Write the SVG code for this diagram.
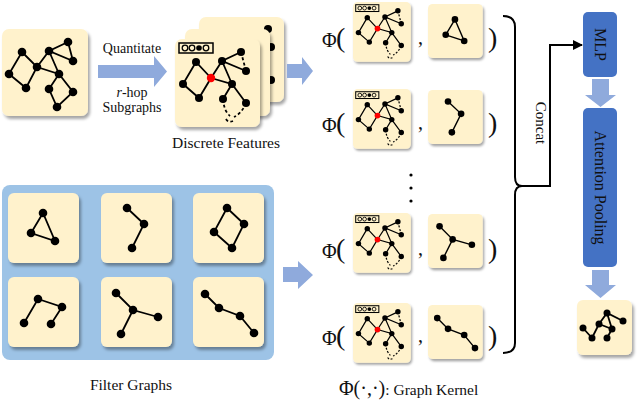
<svg xmlns="http://www.w3.org/2000/svg" xmlns:xlink="http://www.w3.org/1999/xlink" width="640" height="402" viewBox="0 0 640 402">
<style>
.tile{fill:#FFF2CC;filter:url(#sh)}
.e{stroke:#000;stroke-width:1.8;fill:none;stroke-linecap:round}
.d{stroke:#000;stroke-width:1.8;fill:none;stroke-dasharray:3 2.5}
.n{fill:#000}
.t{font-family:"Liberation Serif","Times New Roman",serif;fill:#111}
.arr{fill:#8FAADC}
.blue{fill:#4472C4}
</style>
<defs>
<filter id="sh" x="-20%" y="-20%" width="150%" height="150%">
<feDropShadow dx="2" dy="3" stdDeviation="1.6" flood-color="#000" flood-opacity="0.35"/>
</filter>
<marker id="ah" viewBox="0 0 10 10" refX="9" refY="5" markerWidth="10" markerHeight="10" markerUnits="userSpaceOnUse" orient="auto">
<path d="M0,0 L10,5 L0,10 z" fill="#000"/>
</marker>
<g id="subg">
<rect class="tile" x="0" y="0" width="85" height="88" rx="7"/>
<rect x="4" y="4" width="34" height="10" fill="none" stroke="#000" stroke-width="1.5"/>
<circle cx="10" cy="9" r="2.8" fill="none" stroke="#000" stroke-width="1.3"/>
<circle cx="17" cy="9" r="2.8" fill="none" stroke="#000" stroke-width="1.3"/>
<circle cx="24" cy="9" r="2.8" fill="#000"/>
<circle cx="31" cy="9" r="2.8" fill="none" stroke="#000" stroke-width="1.3"/>
<path class="e" d="M21,23 L8,45 L24,59 L36,39 Z M36,39 L47,22 L66,13 M71,32 L47,22 L57,45 L36,39 M57,45 L48,60 M57,45 L71,64"/>
<path class="d" d="M66,13 L71,32 M48,60 Q49,72 55,77 M71,64 Q67,74 59,78 M51,80 q2,4 7,2"/>
<circle class="n" cx="21" cy="23" r="4"/><circle class="n" cx="8" cy="45" r="4"/><circle class="n" cx="24" cy="59" r="4"/>
<circle cx="36" cy="39" r="4.2" fill="#FF0000"/>
<circle class="n" cx="47" cy="22" r="4"/><circle class="n" cx="66" cy="13" r="4"/><circle class="n" cx="71" cy="32" r="4"/>
<circle class="n" cx="57" cy="45" r="4"/><circle class="n" cx="48" cy="60" r="4"/><circle class="n" cx="71" cy="64" r="4"/>
</g>
<g id="fg1">
<rect class="tile" x="0" y="0" width="71" height="70" rx="6"/>
<path class="e" d="M35,20 L23,40 L47,48 Z"/>
<circle class="n" cx="35" cy="20" r="4.3"/><circle class="n" cx="23" cy="40" r="4.3"/><circle class="n" cx="47" cy="48" r="4.3"/>
</g>
<g id="fg2">
<rect class="tile" x="0" y="0" width="71" height="70" rx="6"/>
<path class="e" d="M26,15 L43,31 L31,55"/>
<circle class="n" cx="26" cy="15" r="4.3"/><circle class="n" cx="43" cy="31" r="4.3"/><circle class="n" cx="31" cy="55" r="4.3"/>
</g>
<g id="fg3">
<rect class="tile" x="0" y="0" width="71" height="70" rx="6"/>
<path class="e" d="M34,15 L51,31 L39,55 L21,39 Z"/>
<circle class="n" cx="34" cy="15" r="4.3"/><circle class="n" cx="51" cy="31" r="4.3"/><circle class="n" cx="39" cy="55" r="4.3"/><circle class="n" cx="21" cy="39" r="4.3"/>
</g>
<g id="fg4">
<rect class="tile" x="0" y="0" width="71" height="70" rx="6"/>
<path class="e" d="M16,46 L30,22 L54,30 L43,47"/>
<circle class="n" cx="16" cy="46" r="4.3"/><circle class="n" cx="30" cy="22" r="4.3"/><circle class="n" cx="54" cy="30" r="4.3"/><circle class="n" cx="43" cy="47" r="4.3"/>
</g>
<g id="fg5">
<rect class="tile" x="0" y="0" width="71" height="70" rx="6"/>
<path class="e" d="M15,16 L32,33 L57,40 M32,33 L20,57"/>
<circle class="n" cx="15" cy="16" r="4.3"/><circle class="n" cx="32" cy="33" r="4.3"/><circle class="n" cx="57" cy="40" r="4.3"/><circle class="n" cx="20" cy="57" r="4.3"/>
</g>
<g id="fg6">
<rect class="tile" x="0" y="0" width="71" height="70" rx="6"/>
<path class="e" d="M12,17 L26,31 L47,39 L61,56"/>
<circle class="n" cx="12" cy="17" r="4.3"/><circle class="n" cx="26" cy="31" r="4.3"/><circle class="n" cx="47" cy="39" r="4.3"/><circle class="n" cx="61" cy="56" r="4.3"/>
</g>
</defs>
<rect x="0" y="0" width="640" height="402" fill="#fff"/>

<!-- input graph -->
<g id="input-graph">
<rect class="tile" x="2" y="29" width="86" height="87" rx="7"/>
<path class="e" d="M22,52 L9,74 L26,88 L37,67 Z M37,67 L49,51 L68,42 L73,61 L49,51 L59,74 L37,67 M59,74 L49,89 L57,107 L73,92 L59,74"/>
<circle class="n" cx="22" cy="52" r="4.3"/><circle class="n" cx="9" cy="74" r="4.3"/><circle class="n" cx="26" cy="88" r="4.3"/>
<circle class="n" cx="37" cy="67" r="4.3"/><circle class="n" cx="49" cy="51" r="4.3"/><circle class="n" cx="68" cy="42" r="4.3"/>
<circle class="n" cx="73" cy="61" r="4.3"/><circle class="n" cx="59" cy="74" r="4.3"/><circle class="n" cx="49" cy="89" r="4.3"/>
<circle class="n" cx="73" cy="92" r="4.3"/><circle class="n" cx="57" cy="107" r="4.3"/>
</g>

<!-- quantitate arrow -->
<g id="quantitate">
<polygon class="arr" points="98,65 154,65 154,56 167,71.5 154,87 154,78 98,78"/>
<text class="t" x="132" y="53" font-size="14" text-anchor="middle">Quantitate</text>
<text class="t" x="132" y="97" font-size="14" text-anchor="middle"><tspan font-style="italic">r</tspan>-hop</text>
<text class="t" x="132" y="112" font-size="14" text-anchor="middle">Subgraphs</text>
</g>

<!-- discrete features stack -->
<g id="discrete-features">
<rect class="tile" x="199" y="17" width="85" height="85" rx="7"/>
<circle class="n" cx="268" cy="29" r="4"/><circle class="n" cx="271" cy="47" r="4"/><circle class="n" cx="271" cy="80" r="4"/>
<rect class="tile" x="185" y="29" width="85" height="87" rx="7"/>
<use xlink:href="#subg" href="#subg" transform="translate(175,39)"/>
<text class="t" x="226" y="148" font-size="15.5" text-anchor="middle">Discrete Features</text>
</g>

<polygon class="arr" points="287,64 302,64 302,57 313,71 302,85 302,78 287,78"/>

<!-- filter graphs -->
<g id="filter-graphs">
<rect x="2" y="185" width="272" height="175" rx="8" fill="#9DC3E6"/>
<use xlink:href="#fg1" href="#fg1" transform="translate(8,193)"/>
<use xlink:href="#fg2" href="#fg2" transform="translate(101,193)"/>
<use xlink:href="#fg3" href="#fg3" transform="translate(193,193)"/>
<use xlink:href="#fg4" href="#fg4" transform="translate(8,277)"/>
<use xlink:href="#fg5" href="#fg5" transform="translate(101,277)"/>
<use xlink:href="#fg6" href="#fg6" transform="translate(193,277)"/>
<text class="t" x="131" y="390" font-size="15.5" text-anchor="middle">Filter Graphs</text>
</g>

<polygon class="arr" points="283,267 298,267 298,261 313,275 298,289 298,282 283,282"/>

<!-- kernel rows -->
<g id="kernel-row1">
<text class="t" x="322" y="47" font-size="20">Φ</text>
<text class="t" x="336" y="47" font-size="28">(</text>
<use xlink:href="#subg" href="#subg" transform="translate(353,2) scale(0.68)"/>
<text class="t" x="418" y="44" font-size="20">,</text>
<use xlink:href="#fg1" href="#fg1" transform="translate(428,4) scale(0.77)"/>
<text class="t" x="488" y="47" font-size="28">)</text>
</g>
<g id="kernel-row2">
<text class="t" x="322" y="132" font-size="20">Φ</text>
<text class="t" x="336" y="132" font-size="28">(</text>
<use xlink:href="#subg" href="#subg" transform="translate(353,89) scale(0.68)"/>
<text class="t" x="418" y="129" font-size="20">,</text>
<use xlink:href="#fg2" href="#fg2" transform="translate(428,90) scale(0.77)"/>
<text class="t" x="488" y="132" font-size="28">)</text>
</g>
<g id="ellipsis">
<circle class="n" cx="411" cy="175" r="1.6"/><circle class="n" cx="411" cy="188" r="1.6"/><circle class="n" cx="411" cy="201" r="1.6"/>
</g>
<g id="kernel-row3">
<text class="t" x="322" y="258" font-size="20">Φ</text>
<text class="t" x="336" y="258" font-size="28">(</text>
<use xlink:href="#subg" href="#subg" transform="translate(353,213) scale(0.68)"/>
<text class="t" x="418" y="255" font-size="20">,</text>
<use xlink:href="#fg5" href="#fg5" transform="translate(428,214) scale(0.77)"/>
<text class="t" x="488" y="258" font-size="28">)</text>
</g>
<g id="kernel-row4">
<text class="t" x="322" y="345" font-size="20">Φ</text>
<text class="t" x="336" y="345" font-size="28">(</text>
<use xlink:href="#subg" href="#subg" transform="translate(353,303) scale(0.68)"/>
<text class="t" x="418" y="342" font-size="20">,</text>
<use xlink:href="#fg6" href="#fg6" transform="translate(428,305) scale(0.77)"/>
<text class="t" x="488" y="345" font-size="28">)</text>
</g>
<text class="t" x="339" y="395" font-size="20">Φ(·,·)<tspan font-size="15.5">: Graph Kernel</tspan></text>

<!-- connectors -->
<g id="connectors">
<path d="M503,16 Q515,16 515,27 L515,177 Q515,186 522,186 Q515,186 515,195 L515,343 Q515,353 503,353" fill="none" stroke="#000" stroke-width="2"/>
<path d="M522,186 H550 V45 H582" fill="none" stroke="#000" stroke-width="2" marker-end="url(#ah)"/>
<text class="t" font-size="15" text-anchor="middle" transform="translate(536,123) rotate(90)">Concat</text>
<polygon class="arr" points="592,79 609,79 609,95 616,95 600.5,107 585,95 592,95"/>
<polygon class="arr" points="592,270 609,270 609,285 616,285 600.5,298 585,285 592,285"/>
</g>

<!-- MLP -->
<g id="mlp">
<rect class="blue" x="583" y="12" width="34" height="65" rx="5"/>
<text class="t" font-size="16" text-anchor="middle" transform="translate(595,44.5) rotate(90)">MLP</text>
</g>
<!-- attention pooling -->
<g id="attention-pooling">
<rect class="blue" x="583" y="108" width="34" height="159" rx="5"/>
<text class="t" font-size="16" text-anchor="middle" transform="translate(595,187.5) rotate(90)">Attention Pooling</text>
</g>
<!-- output graph -->
<g id="output-graph">
<rect class="tile" x="577" y="300" width="55" height="55" rx="6"/>
<path class="e" d="M583,328 L592,338 L599,324 L607,313 L623,321 M607,313 L612,329 L599,324 M612,329 L607,338"/>
<circle class="n" cx="583" cy="328" r="3.5"/><circle class="n" cx="592" cy="338" r="3.5"/><circle class="n" cx="599" cy="324" r="3.5"/>
<circle class="n" cx="607" cy="313" r="3.5"/><circle class="n" cx="623" cy="321" r="3.5"/><circle class="n" cx="612" cy="329" r="3.5"/>
<circle class="n" cx="607" cy="338" r="3.5"/>
</g>
</svg>
